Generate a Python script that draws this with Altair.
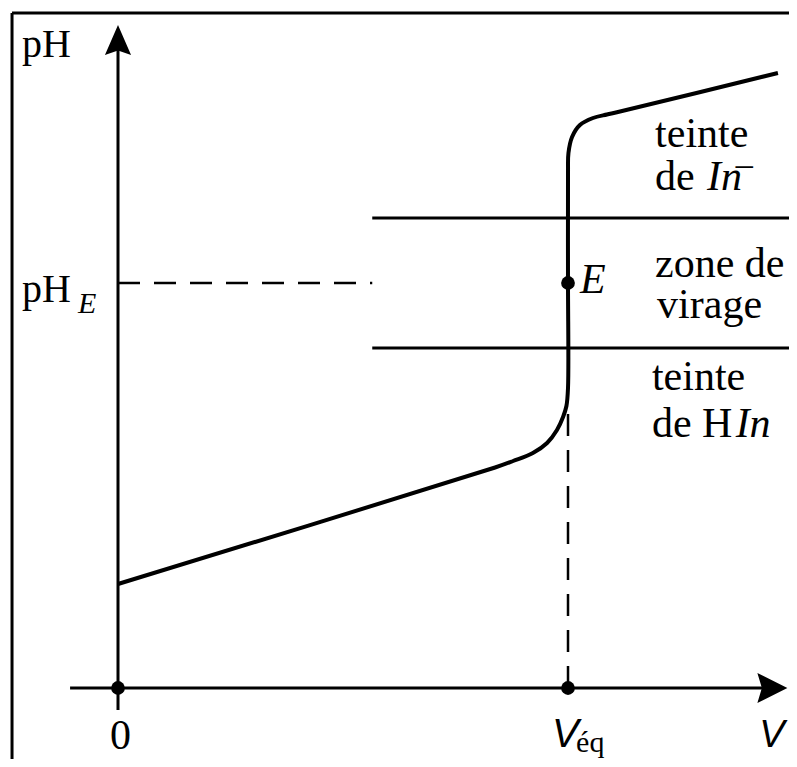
import altair as alt
import pandas as pd

# ---------------- data (schematic units: V in mL, pH) ----------------
V_EQ = 20.0          # equivalence volume
PH_E = 8.1           # pH at equivalence point E
PH_ZONE_LOW = 6.8    # indicator turning zone, lower limit
PH_ZONE_HIGH = 9.4   # indicator turning zone, upper limit
ZONE_START_V = 11.3  # where the zone lines begin
PH_BEND = 5.64       # foot of the jump (end of the vertical dashed line)

curve_v = [0.0, 16.76, 17.56, 18.44, 19.07, 19.51, 19.78, 19.93, 20.0, 20.0,
           20.0, 20.02, 20.18, 20.53, 21.11, 21.73, 22.22, 29.33]
curve_ph = [2.08, 4.41, 4.54, 4.70, 4.90, 5.16, 5.42, 5.64, 6.0, 8.1,
            10.3, 10.7, 11.02, 11.26, 11.40, 11.47, 11.52, 12.30]

point_v = [0.0, V_EQ, V_EQ]
point_ph = [0.0, 0.0, PH_E]

X_DOMAIN = [-4.889, 29.822]
Y_DOMAIN = [-1.42, 13.6]
AXIS_X_RANGE = [-2.13, 29.3]   # horizontal axis line
AXIS_Y_RANGE = [-0.44, 12.9]   # vertical axis line
ARROW_X_TIP = 29.75
ARROW_Y_TIP = 13.26
FRAME_TOP = 13.5
FRAME_LEFT = -4.71

# labels
serif_text = ["pH", "pH", "0", "éq", "teinte", "de", "zone de", "virage",
              "teinte", "de H", "\u2212"]
serif_v = [-4.27, -4.27, -0.36, 20.36, 23.87, 23.87, 23.87, 23.96, 23.73, 23.73, 27.35]
serif_ph = [12.62, 7.72, -1.22, -1.28, 10.82, 9.96, 8.22, 7.4, 5.96, 5.02, 10.16]
serif_size = [40, 40, 42, 30, 42, 42, 42, 42, 42, 42, 38]

italic_text = ["E", "E", "In", "In"]
italic_v = [-1.78, 20.53, 26.18, 27.45]
italic_ph = [7.5, 7.9, 9.96, 5.02]
italic_size = [30, 42, 42, 42]

sans_text = ["V", "V"]
sans_v = [19.29, 28.5]
sans_ph = [-1.18, -1.18]
sans_size = [40, 38]

# ---------------- helpers ----------------
xs = alt.Scale(domain=X_DOMAIN, nice=False, zero=False)
ys = alt.Scale(domain=Y_DOMAIN, nice=False, zero=False)


def X(f):
    return alt.X(f, type="quantitative", scale=xs, axis=None)


def Y(f):
    return alt.Y(f, type="quantitative", scale=ys, axis=None)


def X2(f):
    return alt.X2(f)


def Y2(f):
    return alt.Y2(f)


# frame
frame_df = pd.DataFrame({
    "x": [FRAME_LEFT, FRAME_LEFT],
    "x2": [X_DOMAIN[1], FRAME_LEFT],
    "y": [FRAME_TOP, Y_DOMAIN[0]],
    "y2": [FRAME_TOP, FRAME_TOP],
})
frame = alt.Chart(frame_df).mark_rule(color="black", strokeWidth=3).encode(
    x=X("x"), x2=X2("x2"), y=Y("y"), y2=Y2("y2"))

# axes
axes_df = pd.DataFrame({
    "x": [AXIS_X_RANGE[0], 0.0],
    "x2": [AXIS_X_RANGE[1], 0.0],
    "y": [0.0, AXIS_Y_RANGE[0]],
    "y2": [0.0, AXIS_Y_RANGE[1]],
})
axes = alt.Chart(axes_df).mark_rule(color="black", strokeWidth=3).encode(
    x=X("x"), x2=X2("x2"), y=Y("y"), y2=Y2("y2"))

arrow_x = alt.Chart(pd.DataFrame({"x": [ARROW_X_TIP], "y": [0.0]})).mark_point(
    shape="M0,0L-2,-1L-1.7,0L-2,1Z", size=900, filled=True, color="black",
    opacity=1, strokeWidth=0).encode(x=X("x"), y=Y("y"))
arrow_y = alt.Chart(pd.DataFrame({"x": [0.0], "y": [ARROW_Y_TIP]})).mark_point(
    shape="M0,0L0.87,2L0,1.7L-0.87,2Z", size=900, filled=True, color="black",
    opacity=1, strokeWidth=0).encode(x=X("x"), y=Y("y"))

# dashed guides
dash_df = pd.DataFrame({
    "x": [0.0, V_EQ],
    "x2": [ZONE_START_V, V_EQ],
    "y": [PH_E, 0.0],
    "y2": [PH_E, PH_BEND],
})
dashes = alt.Chart(dash_df).mark_rule(color="black", strokeWidth=2.5,
                                      strokeDash=[22, 14]).encode(
    x=X("x"), x2=X2("x2"), y=Y("y"), y2=Y2("y2"))

# indicator zone lines
zone_df = pd.DataFrame({
    "x": [ZONE_START_V, ZONE_START_V],
    "x2": [X_DOMAIN[1], X_DOMAIN[1]],
    "y": [PH_ZONE_HIGH, PH_ZONE_LOW],
})
zone = alt.Chart(zone_df).mark_rule(color="black", strokeWidth=3).encode(
    x=X("x"), x2=X2("x2"), y=Y("y"))

# titration curve
curve_df = pd.DataFrame({"v": curve_v, "ph": curve_ph, "i": range(len(curve_v))})
curve = alt.Chart(curve_df).mark_line(color="black", strokeWidth=4,
                                      interpolate="catmull-rom").encode(
    x=X("v"), y=Y("ph"), order=alt.Order("i:Q"))

# points
pts = alt.Chart(pd.DataFrame({"v": point_v, "ph": point_ph})).mark_circle(
    color="black", size=190, opacity=1).encode(x=X("v"), y=Y("ph"))


def text_layer(texts, vs, phs, sizes, font, style):
    df = pd.DataFrame({"t": texts, "v": vs, "ph": phs, "s": sizes})
    return alt.Chart(df).mark_text(align="left", baseline="alphabetic",
                                   font=font, fontStyle=style,
                                   color="black").encode(
        x=X("v"), y=Y("ph"), text="t:N",
        size=alt.Size("s:Q", scale=None, legend=None))


t_serif = text_layer(serif_text, serif_v, serif_ph, serif_size,
                     "Liberation Serif", "normal")
t_italic = text_layer(italic_text, italic_v, italic_ph, italic_size,
                      "Liberation Serif", "italic")
t_sans = text_layer(sans_text, sans_v, sans_ph, sans_size,
                    "Liberation Sans", "italic")

chart = alt.layer(frame, axes, dashes, zone, curve, arrow_x, arrow_y, pts,
                  t_serif, t_italic, t_sans).properties(
    width=781, height=751, padding=0, background="white",
    autosize=alt.AutoSizeParams(type="none"),
).configure_view(stroke=None)

chart.save("out.html", embed_options={"renderer": "svg", "actions": False})
